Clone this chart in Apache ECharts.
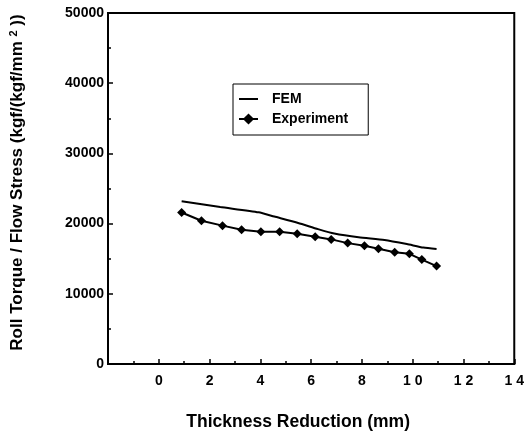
<!DOCTYPE html>
<html>
<head>
<meta charset="utf-8">
<script src="https://cdn.jsdelivr.net/npm/echarts@6/dist/echarts.min.js"></script>
<style>
html,body{margin:0;padding:0;background:#fff;}
#chart{width:527px;height:436px;}
</style>
</head>
<body>
<div id="chart"></div>
<script>
// Data
const femX = [0.90, 2.42, 3.93, 4.55, 5.49, 6.27, 6.91, 7.87, 8.89, 9.77, 10.42, 10.94];
const femY = [23180, 22360, 21610, 21000, 20080, 19210, 18580, 18040, 17660, 17080, 16580, 16390];
const expX = [0.90, 1.68, 2.51, 3.26, 4.02, 4.76, 5.45, 6.16, 6.79, 7.44, 8.10, 8.65, 9.29, 9.87, 10.36, 10.94];
const expY = [21580, 20410, 19710, 19120, 18830, 18830, 18540, 18140, 17750, 17220, 16830, 16430, 15910, 15700, 14880, 13950];
const xTickLabels = {"0":"0","2":"2","4":"4","6":"6","8":"8","10":"1 0","12":"1 2","14":"1 4"};
const yTickLabels = ["0","10000","20000","30000","40000","50000"];
const seriesNames = ["FEM", "Experiment"];

const FONT = "'Liberation Sans', Arial, Helvetica, sans-serif";
const chart = echarts.init(document.getElementById('chart'), null, {renderer: 'canvas'});
const pairs = (xs, ys) => xs.map((x, i) => [x, ys[i]]);

chart.setOption({
  animation: false,
  backgroundColor: '#fff',
  grid: {
    left: 108, right: 10, top: 13, bottom: 71,
    show: true, borderColor: '#000', borderWidth: 2, backgroundColor: 'transparent'
  },
  legend: {
    orient: 'vertical',
    left: 233, top: 84,
    data: [{name: seriesNames[0], itemStyle: {opacity: 0}}, {name: seriesNames[1]}],
    itemWidth: 19, itemHeight: 14, itemGap: 6,
    padding: [8, 20, 9, 5],
    borderColor: '#000', borderWidth: 1,
    backgroundColor: '#fff',
    textStyle: {fontFamily: FONT, fontWeight: 'bold', fontSize: 14, color: '#000', padding: [0, 0, 0, 9]}
  },
  xAxis: {
    type: 'value', min: -2, max: 14, interval: 2,
    axisLine: {show: true, onZero: false, lineStyle: {color: '#000', width: 2}},
    axisTick: {show: true, inside: true, length: 5, lineStyle: {color: '#000', width: 1.5}},
    minorTick: {show: true, splitNumber: 2, length: 3, lineStyle: {color: '#000', width: 1.5}},
    splitLine: {show: false},
    axisLabel: {
      margin: 10, color: '#000', fontFamily: FONT, fontWeight: 'bold', fontSize: 14,
      formatter: v => (xTickLabels[String(v)] !== undefined ? xTickLabels[String(v)] : '')
    },
    name: 'Thickness Reduction (mm)',
    nameLocation: 'middle', nameGap: 49,
    nameTextStyle: {color: '#000', fontFamily: FONT, fontWeight: 'bold', fontSize: 17.5, padding: [0, 26, 0, 0]}
  },
  yAxis: {
    type: 'value', min: 0, max: 50000, interval: 10000,
    axisLine: {show: true, onZero: false, lineStyle: {color: '#000', width: 2}},
    axisTick: {show: true, inside: true, length: 5, lineStyle: {color: '#000', width: 1.5}},
    minorTick: {show: true, splitNumber: 2, length: 3, lineStyle: {color: '#000', width: 1.5}},
    splitLine: {show: false},
    axisLabel: {
      margin: 4, color: '#000', fontFamily: FONT, fontWeight: 'bold', fontSize: 14,
      formatter: v => yTickLabels[Math.round(v / 10000)] || ''
    },
    name: 'Roll Torque / Flow Stress (kgf/(kgf/mm {sup|2} ))',
    nameLocation: 'middle', nameGap: 81,
    nameTextStyle: {
      color: '#000', fontFamily: FONT, fontWeight: 'bold', fontSize: 17, padding: [0, 0, 0, 12],
      rich: {sup: {fontFamily: FONT, fontWeight: 'bold', fontSize: 11, color: '#000', verticalAlign: 'top', padding: [0, 0, 8, 0]}}
    }
  },
  series: [
    {
      name: seriesNames[0], type: 'line', data: pairs(femX, femY),
      symbol: 'none', smooth: 0.2,
      lineStyle: {color: '#000', width: 2},
      itemStyle: {color: '#000', opacity: 0}
    },
    {
      name: seriesNames[1], type: 'line', data: pairs(expX, expY),
      symbol: 'diamond', symbolSize: 9,
      lineStyle: {color: '#000', width: 2},
      itemStyle: {color: '#000'}
    }
  ]
});
</script>
</body>
</html>
